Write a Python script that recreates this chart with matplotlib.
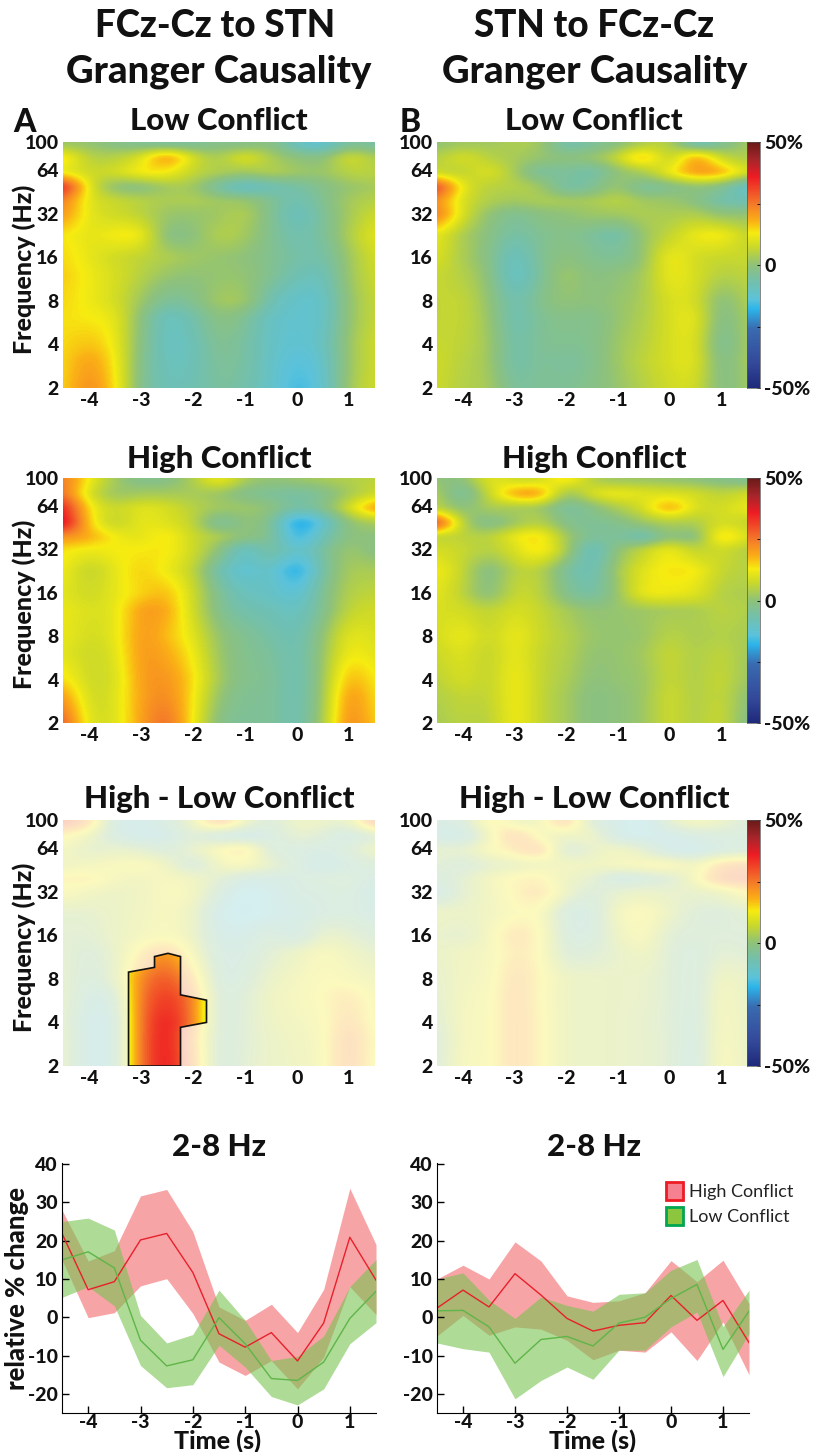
import numpy as np
import matplotlib
matplotlib.use('Agg')
import matplotlib.pyplot as plt
from matplotlib.colors import LinearSegmentedColormap, Normalize
from matplotlib.patches import Patch, Polygon, Rectangle

plt.rcParams['font.family'] = ['Lato', 'Open Sans', 'DejaVu Sans']

W, H = 815, 1452

times = [-4.5, -4, -3.5, -3, -2.5, -2, -1.5, -1, -0.5, 0, 0.5, 1, 1.5]
freqs = [2, 3, 4, 6, 8, 12, 16, 23, 32, 40, 50, 64, 80, 100]
freq_ticks = [2, 4, 8, 16, 32, 64, 100]
time_ticks = [-4, -3, -2, -1, 0, 1]
pct_ticks = [-20, -10, 0, 10, 20, 30, 40]

# rows go from 2 Hz up to 100 Hz, values in %
a_low = [
    [14, 24, 15, -4, -9, -8, -4, -6, -11, -17, -13, 3, 8],
    [14, 21, 14, -3, -10, -9, -3, -5, -11, -15, -12, 2, 8],
    [14, 17, 13, -2, -11, -9, -2, -5, -11, -13, -11, 2, 8],
    [14, 13, 12, -1, -11, -7, 0, -3, -11, -12, -12, 1, 7],
    [15, 12, 9, 2, -5, -3, 3, 3, -8, -12, -12, 1, 7],
    [16, 12, 9, 5, 1, 0, 1, 1, -3, -8, -10, 2, 8],
    [15, 11, 8, 6, 4, 2, 1, 0, -3, -6, -7, 2, 9],
    [14, 10, 13, 14, -3, -1, 5, 3, -3, -8, -5, 4, 11],
    [22, 10, 8, 6, 1, 1, 2, 5, -3, -11, -4, 3, 8],
    [26, 9, 7, 5, 3, 4, 2, 2, -3, -9, -3, 3, 5],
    [38, 9, -1, -2, 3, 3, -6, -12, -8, -6, -2, 1, 3],
    [12, 7, 8, 14, 14, 6, 4, 2, 5, 2, 1, 6, 5],
    [16, 4, 5, 9, 24, 8, 2, 12, 3, 0, -2, 10, 3],
    [2, 1, -2, -3, -4, -4, -2, -2, 0, -10, -14, -2, -6],
]
a_high = [
    [30, 8, 9, 20, 28, 13, -3, -4, -3, -9, 2, 26, 14],
    [22, 7, 9, 20, 24, 14, 0, -4, -3, -9, 1, 24, 13],
    [15, 7, 8, 21, 22, 15, 2, -3, -3, -9, 1, 20, 12],
    [11, 7, 9, 22, 19, 13, 1, -3, -4, -9, 1, 14, 10],
    [12, 8, 10, 22, 17, 11, 0, -3, -6, -9, 0, 12, 9],
    [12, 9, 10, 21, 20, 8, -3, -7, -8, -11, -3, 7, 8],
    [11, 7, 11, 15, 18, 8, -4, -10, -10, -15, -3, 5, 6],
    [13, 5, 11, 16, 12, 7, -8, -14, -9, -22, -5, 4, 3],
    [14, 11, 13, 13, 14, 8, 0, -13, -3, -14, -5, 3, -2],
    [22, 19, 12, 10, 15, 7, 4, -1, -2, -20, -8, 0, -1],
    [42, 14, 5, 12, 10, 7, -7, 1, -2, -23, -13, 1, 3],
    [38, 12, 6, 11, 9, 5, 2, 2, 0, -7, -3, 8, 22],
    [28, 8, 1, 3, 3, 3, 2, -3, -4, -6, -3, 3, 8],
    [26, 12, 2, -3, -2, 3, 14, 2, 0, 1, 3, 4, 6],
]
a_diff = [
    [6, -10, -8, 28, 38, 24, -6, 2, 6, 7, 10, 26, 10],
    [6, -10, -8, 28, 38, 22, -5, 1, 6, 8, 10, 26, 11],
    [5, -10, -8, 28, 37, 26, -5, 1, 7, 9, 11, 22, 10],
    [5, -7, -4, 27, 33, 26, -5, 0, 8, 10, 13, 18, 10],
    [4, -4, 3, 24, 30, 20, -6, -3, 6, 9, 13, 11, 8],
    [3, -2, 4, 16, 24, 10, -6, -5, 2, 6, 12, 8, 3],
    [2, 1, 6, 9, 12, 7, -8, -7, -1, -8, 6, 3, -2],
    [3, 3, 6, 8, 11, 7, -10, -13, -9, -7, -4, -3, -6],
    [12, 8, 6, 7, 12, 10, -3, -13, -9, -4, -4, -2, -8],
    [14, 16, 9, 8, 11, 8, 2, -6, -6, -4, -2, -1, -6],
    [7, 9, 11, 13, 8, -6, 9, 12, 4, -3, -9, -4, -2],
    [10, 2, 5, 3, -3, 4, 12, 20, -4, -3, -6, -2, 8],
    [14, 8, -5, -9, -8, 2, -7, -9, -5, 4, 0, -8, 1],
    [30, 22, -8, -9, -4, 5, 28, 6, -4, 8, 6, 1, 30],
]
b_low = [
    [8, 4, 4, -6, -3, -4, -2, 1, 5, 8, 10, -4, 3],
    [8, 5, 3, -8, -3, -5, -3, 2, 6, 9, 12, -5, 4],
    [7, 6, 3, -8, -3, -3, -3, 2, 5, 9, 12, -7, 4],
    [6, 7, 2, -9, -3, -2, -3, 1, 4, 9, 13, -5, 4],
    [6, 7, 1, -9, -2, 1, -1, 1, 3, 10, 10, -3, 5],
    [7, 5, 0, -13, -4, 3, -2, 0, 2, 13, 9, 4, 6],
    [10, 3, -1, -12, -3, 0, -3, -4, 0, 14, 8, 7, 7],
    [12, 3, -1, -7, -3, -2, -4, -8, 2, 6, 12, 14, 6],
    [26, 8, 0, -4, -1, 0, 2, 2, 4, 3, 5, 0, 1],
    [24, 8, 4, 2, 4, 3, 3, 6, 2, 2, -1, -7, -8],
    [34, 9, 5, 5, 3, -7, -4, 3, -6, -3, 0, -2, -12],
    [7, 5, 11, 3, -6, -3, -8, 1, 3, 12, 22, 20, 8],
    [4, 10, 5, 3, 1, -1, 1, 6, 21, 2, 24, 6, 4],
    [0, 3, 2, 4, 3, -8, -4, -1, 5, 6, -9, -4, 3],
]
b_high = [
    [3, 6, 4, 14, 6, 3, -2, 0, 1, 9, 3, 9, -3],
    [4, 7, 5, 14, 6, 3, -2, 0, 1, 9, 3, 8, -1],
    [5, 10, 5, 14, 6, 4, -1, 1, 1, 8, 3, 8, 1],
    [7, 11, 5, 13, 6, 5, 0, 1, 2, 8, 3, 7, 2],
    [8, 13, 6, 13, 7, 5, 1, 1, 1, 6, 3, 5, 3],
    [9, 9, 5, 10, 7, 3, 0, 1, 2, 3, 3, 6, 4],
    [11, 6, -3, 8, 6, -3, -7, 1, 13, 12, 11, 4, 4],
    [13, 7, -4, 6, 6, -5, -10, 3, 11, 14, 14, 6, 5],
    [9, 7, 4, 9, 16, 4, -13, 1, 6, 14, 5, 9, 4],
    [6, 6, 4, 12, 16, 2, -5, -3, -10, 2, -5, 19, 8],
    [34, 3, -4, 2, 6, -3, -4, -3, 2, 4, 3, 10, 6],
    [6, -2, 4, 3, 3, -6, -2, 4, 8, 22, 8, 8, 12],
    [5, -8, 7, 20, 22, -2, 10, 13, 10, 10, 9, 5, 9],
    [1, -3, 12, 8, 8, 16, 4, 2, 2, 1, 0, -2, -3],
]
b_diff = [
    [-2, 12, 10, 22, 14, 6, 6, 5, 4, 2, -9, 15, 4],
    [-2, 11, 10, 22, 14, 6, 6, 5, 4, 2, -8, 14, 4],
    [0, 11, 10, 22, 14, 6, 6, 5, 4, 1, -7, 13, 4],
    [2, 10, 10, 22, 13, 6, 6, 5, 5, 1, -6, 12, 4],
    [3, 9, 9, 21, 14, 6, 6, 5, 5, 1, -6, 10, 4],
    [5, 8, 9, 18, 14, -2, 0, 4, 9, 0, -4, 3, 0],
    [5, 2, 9, 20, 14, -4, -5, 7, 13, 0, -1, 0, -1],
    [7, 5, 8, 12, 14, -6, -6, 10, 14, 6, -1, -2, 2],
    [-8, 3, 8, 14, 20, 6, -3, 4, 6, 4, 4, 6, 14],
    [-4, 2, 9, 14, 16, 6, 4, -8, -4, -1, 10, 26, 26],
    [2, -3, 3, 5, 8, 9, 7, 10, 12, 14, 6, 22, 22],
    [4, 2, 12, 16, 26, -5, 5, 9, 3, -9, -10, -4, -3],
    [-6, -10, 8, 26, 10, 5, 9, -9, -10, -9, -4, -3, -3],
    [-4, -6, 18, 8, 6, 28, -4, -6, -14, 3, 10, 6, -2],
]

# significant cluster in the left difference panel (time, Hz)
cluster_t = [-3.24, -3.24, -2.74, -2.74, -2.48, -2.24, -2.24, -1.74, -1.74, -2.24, -2.24]
cluster_f = [2, 8.9, 9.6, 11.4, 12, 11.4, 6.2, 5.7, 4, 3.7, 2]

# 2-8 Hz time courses
a_high_mean = [21.9, 7.2, 9.3, 20.2, 21.9, 11.7, -4.3, -7.8, -4, -11.4, -1.5, 20.9, 9.7]
a_high_up = [28, 14.7, 17.4, 31.7, 33.4, 22.4, 2.7, -0.8, 3.4, -4, 7.3, 33.7, 19]
a_high_lo = [15, -0.1, 1.2, 8.2, 10.1, 1, -11.7, -15.2, -11.3, -18.7, -10.4, 8, 0.7]
a_low_mean = [15, 17.1, 12.9, -6, -12.7, -11.1, -0.1, -6.9, -16, -16.5, -11.7, -0.3, 6.8]
a_low_up = [25, 25.9, 22.8, 0.5, -6.7, -4.5, 7.1, -0.8, -11.3, -10.2, -4.9, 8, 15.1]
a_low_lo = [5.2, 8, 3, -12.6, -18.4, -17.6, -7.3, -13, -20.7, -22.9, -18.7, -6.9, -1.4]

b_high_mean = [2.4, 7.1, 2.7, 11.4, 5.8, -0.3, -3.6, -2.1, -1.4, 5.7, -0.8, 4.4, -6.6]
b_high_up = [10, 13.6, 10, 19.7, 14.7, 5.6, 3.9, 4.3, 6.4, 14.8, 9.3, 14.9, 3.6]
b_high_lo = [-4.9, 0.5, -4.7, -2.5, -3.1, -6, -11.1, -8.6, -9.1, -3.8, -11.3, -1.2, -15]
b_low_mean = [1.7, 1.8, -2.5, -12, -5.8, -5, -7.5, -1.5, 0, 4.9, 8.6, -8.4, 1.6]
b_low_up = [10, 11.6, 4.5, -0.3, 5.3, 3.1, 1.6, 6, 6.4, 12.3, 15.1, -2.5, 7.1]
b_low_lo = [-6.7, -8.2, -9.1, -21.3, -16.5, -13, -16.2, -8.6, -8.6, -2.5, 1.4, -15.5, -4.3]

cmap = LinearSegmentedColormap.from_list('gc', [
    (0.00, '#1f2a7a'), (0.10, '#34499b'), (0.24, '#3a6bb0'), (0.32, '#2cb5ea'),
    (0.36, '#5cc3da'), (0.44, '#76c0a8'), (0.50, '#8fc27a'), (0.574, '#cbd92a'),
    (0.63, '#f6ec10'), (0.68, '#fbb016'), (0.75, '#f4792a'), (0.86, '#ee1c25'),
    (0.93, '#a6262b'), (1.00, '#6b1a1a')])
norm = Normalize(-50, 50)
log_rows = np.linspace(1, np.log2(100), 60)
dt = 0.25


def add_ax(x0, y0, x1, y1):
    # pixel box of the reference, y measured from the top
    return fig.add_axes([x0 / W, 1 - y1 / H, (x1 - x0) / W, (y1 - y0) / H])


def label(x, y, s, size, **kw):
    kw.setdefault('ha', 'center')
    kw.setdefault('va', 'center')
    kw.setdefault('weight', 'black')
    fig.text(x / W, 1 - y / H, s, fontsize=size, color='#111111', **kw)


def show(ax, values, **kw):
    # imshow needs even rows, so put the columns on an even log2 raster for display only
    values = np.array(values, dtype=float)
    z = np.column_stack([np.interp(log_rows, np.log2(freqs), values[:, j]) for j in range(values.shape[1])])
    return ax.imshow(z, origin='lower', aspect='auto', cmap=cmap, norm=norm, interpolation='bicubic',
                     extent=[times[0] - dt, times[-1] + dt, log_rows[0], log_rows[-1]], **kw)


def heat(x0, y0, x1, y1, values, faded=False):
    ax = add_ax(x0, y0, x1, y1)
    show(ax, values)
    if faded:
        ax.add_patch(Rectangle((0, 0), 1, 1, transform=ax.transAxes, fc='white', alpha=0.73, ec='none', zorder=2))
    ax.set_xlim(-4.5, 1.5)
    ax.set_ylim(1, np.log2(100))
    ax.set_xticks(time_ticks)
    ax.set_xticklabels([str(t) for t in time_ticks], fontsize=14, weight='black', color='#111111')
    ax.set_yticks(np.log2(freq_ticks))
    ax.set_yticklabels([str(f) for f in freq_ticks], fontsize=14, weight='black', color='#111111')
    ax.tick_params(length=0, pad=3)
    for s in ax.spines.values():
        s.set_visible(False)
    return ax


def cbar(x0, y0, x1, y1):
    cax = add_ax(x0, y0, x1, y1)
    cax.imshow(np.linspace(-50, 50, 256)[:, None], origin='lower', aspect='auto', cmap=cmap, norm=norm,
               extent=[0, 1, -50, 50])
    cax.set_xticks([])
    cax.yaxis.tick_right()
    cax.set_yticks([-50, -25, 0, 25, 50])
    cax.set_yticklabels(['-50%', '', '0', '', '50%'], fontsize=14, weight='black', color='#111111')
    cax.tick_params(direction='in', length=2, width=0.6, pad=3)
    for s in cax.spines.values():
        s.set_linewidth(0.5)
        s.set_edgecolor('#555555')


def course(x0, y0, x1, y1, high, high_up, high_lo, low, low_up, low_lo):
    ax = add_ax(x0, y0, x1, y1)
    ax.fill_between(times, high_lo, high_up, color='#ed1c24', alpha=0.4, lw=0)
    ax.fill_between(times, low_lo, low_up, color='#78c350', alpha=0.6, lw=0)
    ax.plot(times, high, color='#e8202a', lw=1)
    ax.plot(times, low, color='#5fb548', lw=1)
    ax.set_xlim(-4.5, 1.5)
    ax.set_ylim(-25, 40.3)
    ax.set_xticks(time_ticks)
    ax.set_xticklabels([str(t) for t in time_ticks], fontsize=14, weight='black', color='#111111')
    ax.set_yticks(pct_ticks)
    ax.set_yticklabels([str(p) for p in pct_ticks], fontsize=14, weight='black', color='#111111')
    ax.tick_params(direction='in', length=5, width=1, pad=3)
    ax.tick_params(axis='x', pad=1)
    ax.spines['top'].set_visible(False)
    ax.spines['right'].set_visible(False)
    return ax


fig = plt.figure(figsize=(W / 100, H / 100), dpi=100)

label(215, 26, 'FCz-Cz to STN', 26.5)
label(219, 72, 'Granger Causality', 27.5)
label(594, 26, 'STN to FCz-Cz', 26.5)
label(595, 72, 'Granger Causality', 27.5)
label(25, 122, 'A', 23)
label(410, 122, 'B', 23)

rows = [(142, 388), (478, 723), (820, 1066)]
title_y = [121, 459, 799]
names = ['Low Conflict', 'High Conflict', 'High - Low Conflict']
left = [a_low, a_high, a_diff]
right = [b_low, b_high, b_diff]
for i in range(3):
    y0, y1 = rows[i]
    axl = heat(63, y0, 375, y1, left[i], faded=i == 2)
    heat(437, y0, 747, y1, right[i], faded=i == 2)
    cbar(747, y0, 760, y1)
    label(219, title_y[i], names[i], 22.5)
    label(594, title_y[i], names[i], 22.5)
    label(24, (y0 + y1) / 2 + 4, 'Frequency (Hz)', 18, rotation=90)

# cluster stays at full colour on top of the faded map
outline = Polygon(list(zip(cluster_t, np.log2(cluster_f))), closed=True, fc='none', ec='#111111', lw=1.2, zorder=4)
axl.add_patch(outline)
im = show(axl, a_diff, zorder=3)
im.set_clip_path(outline)
axl.set_xlim(-4.5, 1.5)
axl.set_ylim(1, np.log2(100))

course(62, 1163, 376, 1413, a_high_mean, a_high_up, a_high_lo, a_low_mean, a_low_up, a_low_lo)
axb = course(437, 1163, 749, 1413, b_high_mean, b_high_up, b_high_lo, b_low_mean, b_low_up, b_low_lo)
label(219, 1147, '2-8 Hz', 22.5)
label(594, 1147, '2-8 Hz', 22.5)
label(218, 1441, 'Time (s)', 18)
label(593, 1441, 'Time (s)', 18)
label(17, 1288, 'relative % change', 18.5, rotation=90)

handles = [Patch(fc='#f5808f', ec='#ed1c24', lw=2), Patch(fc='#8cc63f', ec='#00a651', lw=2)]
axb.legend(handles, ['High Conflict', 'Low Conflict'], frameon=False, fontsize=13,
           loc='upper left', bbox_to_anchor=(0.735, 0.925), borderaxespad=0, borderpad=0,
           handlelength=0.95, handleheight=1.2, handletextpad=0.3, labelspacing=0.35,
           labelcolor='#222222')

plt.savefig('out.png', dpi=100)
